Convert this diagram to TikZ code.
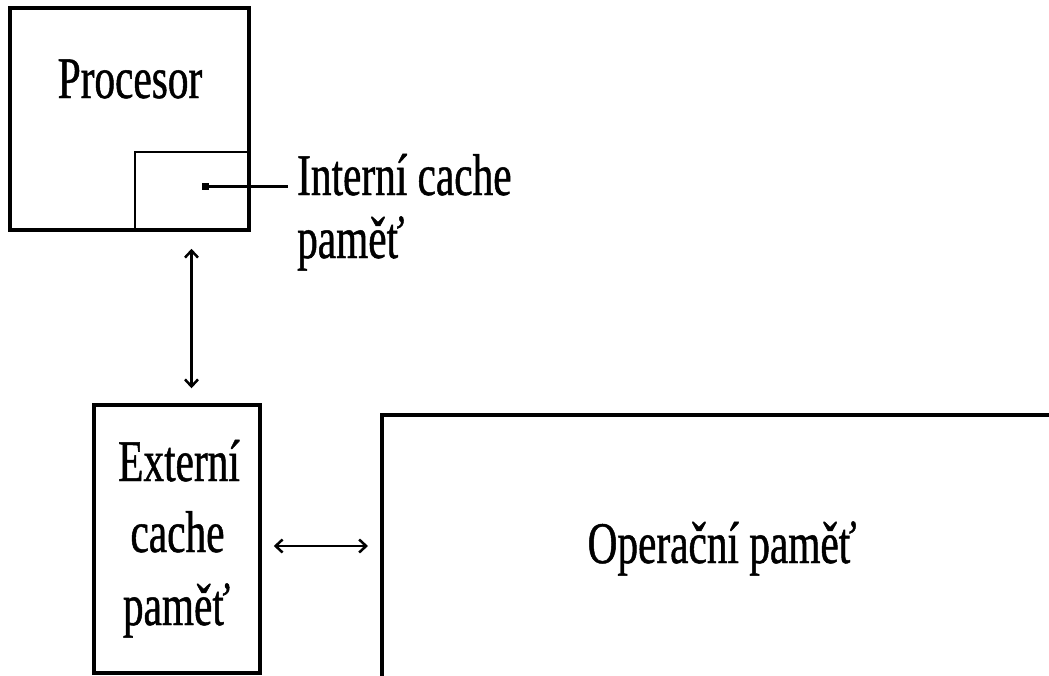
\documentclass[tikz,border=0pt]{standalone}
\usepackage{fontspec}
\setmainfont{Liberation Serif}[FakeStretch=0.7,FakeBold=0.8]
\usetikzlibrary{arrows.meta,calc}
\begin{document}
\begin{tikzpicture}[x=1pt,y=-1pt,
  box/.style={draw,line width=3.5pt,inner sep=0pt},
  lbl/.style={font=\fontsize{59}{60}\selectfont,inner sep=0pt,anchor=base},
  tip/.tip={Straight Barb[length=7pt,width=13pt,line width=2.5pt]},
  arr/.style={line width=2.5pt,tip-tip}]
\useasboundingbox (0,0) rectangle (1049,675);
\clip (0,0) rectangle (1049,675);
% Procesor
\node[box,minimum width=239pt,minimum height=222pt] (proc) at (129.5,119) {};
\node[lbl] (proct) at (130,98) {Procesor};
\node[draw,line width=2pt,minimum width=113pt,minimum height=78pt,inner sep=0pt] (ic) at (191.5,191) {};
\node[fill,minimum size=7pt,inner sep=0pt] (dot) at (205,186) {};
\node[lbl,anchor=base west] (int1) at (297,195) {Interní cache};
\node[lbl,anchor=base west] (int2) at (297,258) {paměť};
\draw[line width=3pt,shorten >=9pt] (dot) -- (dot -| int1.west);
% Externi cache
\node[box,minimum width=166pt,minimum height=268pt] (ext) at (177,539) {};
\node[lbl] (e1) at (179,481) {Externí};
\node[lbl] (e2) at (177.5,552) {cache};
\node[lbl] (e3) at (176.5,625) {paměť};
% Operacni pamet
\node[box,minimum width=900pt,minimum height=400pt,anchor=north west] (opm) at (380,413) {};
\node[lbl] (ot) at (722,563) {Operační paměť};
% arrows
\draw[arr,shorten <=17pt,shorten >=15pt] (proc.south -| ic.center) -- (ext.north -| ic.center);
\coordinate (ha) at ([yshift=-7pt]ext.east);
\draw[arr,shorten <=12pt,shorten >=12pt] (ha) -- (ha -| opm.west);
\end{tikzpicture}
\end{document}
